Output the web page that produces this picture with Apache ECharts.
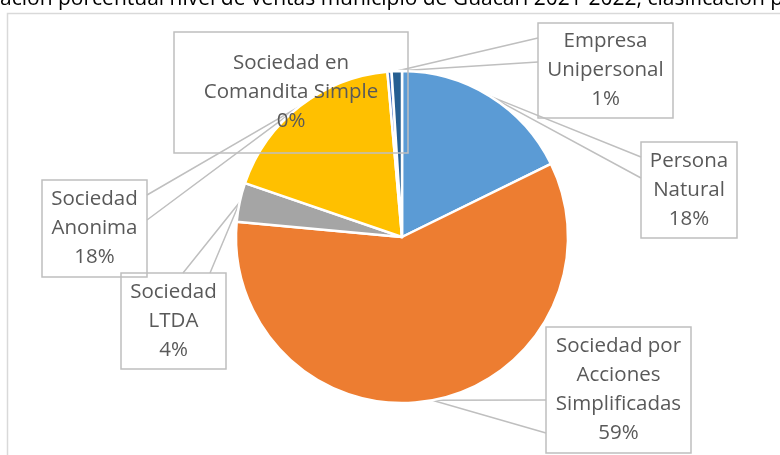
<!DOCTYPE html>
<html>
<head>
<meta charset="utf-8">
<script src="https://cdn.jsdelivr.net/npm/echarts@6/dist/echarts.min.js"></script>
<style>
  html, body { margin: 0; padding: 0; background: #fff; }
  #chart { width: 780px; height: 455px; }
</style>
</head>
<body>
<div id="chart"></div>
<script>
// datos (porcentaje de ventas por tipo de organizacion)
const categories = [
  "Persona Natural",
  "Sociedad por Acciones Simplificadas",
  "Sociedad LTDA",
  "Sociedad Anonima",
  "Sociedad en Comandita Simple",
  "Empresa Unipersonal",
];
const shares = [17.7, 58.6, 3.8, 18.3, 0.4, 1.0];
const labelNames = [
  "Persona\nNatural",
  "Sociedad por\nAcciones\nSimplificadas",
  "Sociedad\nLTDA",
  "Sociedad\nAnonima",
  "Sociedad en\nComandita Simple",
  "Empresa\nUnipersonal",
];
const colors = ["#5B9BD5", "#ED7D31", "#A5A5A5", "#FFC000", "#4472C4", "#255E91"];
const titleText = "ación porcentual nivel de ventas municipio de Guacarí 2021-2022, clasificación p";

// cajas de las etiquetas (x0, y0, x1, y1) y base de la flecha
const LINE_H = 29;
const boxes = [
  { x0: 641, y0: 142, x1: 737, y1: 238, base: [[641, 157], [641, 178]] },
  { x0: 546, y0: 327, x1: 691, y1: 453, base: [[546, 400], [546, 433]] },
  { x0: 121, y0: 273, x1: 226, y1: 369, base: [[183, 273], [210, 273]] },
  { x0: 42, y0: 180, x1: 147, y1: 277, base: [[147, 195], [147, 220]] },
  { x0: 174, y0: 32, x1: 408, y1: 153, base: null },
  { x0: 538, y0: 23, x1: 673, y1: 118, base: [[538, 38], [538, 62]] },
];

const chart = echarts.init(document.getElementById("chart"));

const data = categories.map((name, i) => {
  const b = boxes[i];
  const lines = labelNames[i].split("\n").length + 1;
  const padV = Math.max(0, (b.y1 - b.y0 - lines * LINE_H) / 2);
  return {
    name: name,
    value: shares[i],
    itemStyle: { color: colors[i] },
    label: { width: b.x1 - b.x0, padding: [padV, 0] },
    labelLine: { show: !!b.base },
  };
});

chart.setOption({
  animation: false,
  graphic: [
    {
      type: "rect",
      silent: true,
      shape: { x: 7.5, y: 13.5, width: 800, height: 500 },
      style: { fill: "none", stroke: "#D9D9D9", lineWidth: 1.5 },
    },
    {
      type: "text",
      silent: true,
      x: 0,
      y: -0.5,
      style: {
        text: titleText,
        fill: "#000",
        font: '21px "Open Sans"',
        align: "left",
        verticalAlign: "middle",
      },
    },
  ],
  series: [
    {
      type: "pie",
      center: [402, 237],
      radius: 166,
      startAngle: 90,
      clockwise: true,
      percentPrecision: 0,
      data: data,
      itemStyle: { borderColor: "#fff", borderWidth: 2.5 },
      emphasis: { disabled: true },
      label: {
        show: true,
        position: "outside",
        color: "#595959",
        fontFamily: "Open Sans",
        fontSize: 20.5,
        lineHeight: LINE_H,
        align: "center",
        borderColor: "#BFBFBF",
        borderWidth: 1.5,
        formatter: (p) => labelNames[p.dataIndex] + "\n" + p.percent + "%",
      },
      labelLine: {
        show: true,
        lineStyle: { color: "#BFBFBF", width: 1.5 },
      },
      labelLayout: function (params) {
        const b = boxes[params.dataIndex];
        const res = {
          x: (b.x0 + b.x1) / 2,
          y: (b.y0 + b.y1) / 2,
          align: "center",
          verticalAlign: "middle",
        };
        if (b.base && params.labelLinePoints) {
          res.labelLinePoints = [b.base[0], params.labelLinePoints[0], b.base[1]];
        }
        return res;
      },
    },
  ],
});
</script>
</body>
</html>
